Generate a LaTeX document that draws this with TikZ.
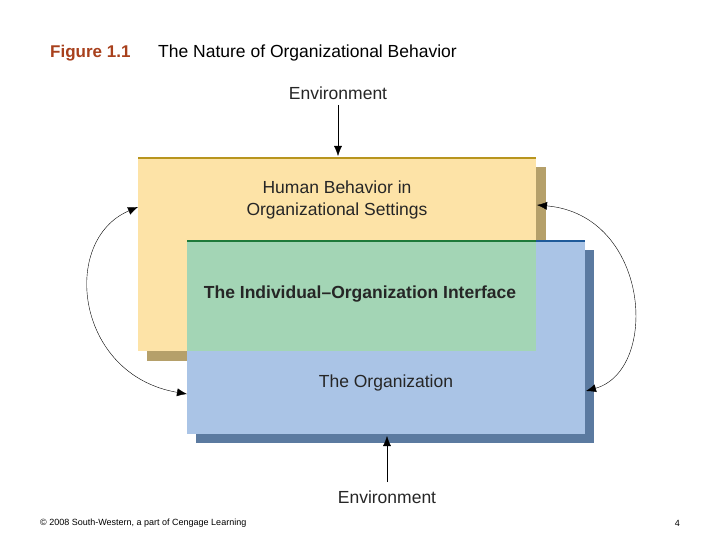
\documentclass[tikz,border=0pt]{standalone}
\usepackage{fontspec}
\setmainfont{Liberation Sans}
\usetikzlibrary{arrows.meta}
\definecolor{yel}{HTML}{FDE3A7}
\definecolor{yelsh}{HTML}{B5A06A}
\definecolor{gold}{HTML}{B8951E}
\definecolor{blu}{HTML}{AAC4E6}
\definecolor{blush}{HTML}{5B7AA0}
\definecolor{bluline}{HTML}{1F5A9A}
\definecolor{grn}{HTML}{A3D5B5}
\definecolor{grnline}{HTML}{1E7A3A}
\definecolor{figred}{HTML}{A8401C}
\begin{document}
\begin{tikzpicture}[x=1pt,y=-1pt,
  lbl/.style={font=\fontsize{17.5}{22}\selectfont, text=black!85, align=center},
  arr/.style={-{Latex[length=10pt,width=8pt]}, thin}]
\useasboundingbox (0,0) rectangle (720,540);
\fill[white] (0,0) rectangle (720,540);
\node[anchor=west, font=\bfseries\fontsize{17}{20}\selectfont, text=figred, inner sep=0pt] (fig) at (50,53) {Figure 1.1};
\node[anchor=west, font=\fontsize{17.5}{20}\selectfont, inner sep=0pt] (tit) at (158,53) {The Nature of Organizational Behavior};
% boxes
\fill[yelsh] (147,167) rectangle (546,361);
\fill[yel] (138,157) rectangle (536,351);
\draw[gold, line width=2.5pt] (138,158) -- (536,158);
\fill[blush] (196,250) rectangle (594,443);
\fill[blu] (187,240) rectangle (585,434);
\draw[bluline, line width=2.5pt] (187,241) -- (585,241);
\fill[grn] (187,240) rectangle (536,351);
\draw[grnline, line width=2.5pt] (187,241) -- (536,241);
\coordinate (yl) at (138,207);
\coordinate (yr) at (537,205);
\coordinate (bl) at (187,394);
\coordinate (br) at (586,391);
\coordinate (ytop) at (338,156);
\coordinate (bbot) at (387,436);
\node[lbl] (hb) at (337,200) {Human Behavior in\\Organizational Settings};
\node[lbl, font=\bfseries\fontsize{17.5}{22}\selectfont] (io) at (360,294) {The Individual–Organization Interface};
\node[lbl] (org) at (386,383) {The Organization};
\node[lbl, inner sep=1pt] (e1) at (338,93) {Environment};
\node[lbl, inner sep=1pt] (e2) at (387,497) {Environment};
\draw[arr] (338,105) -- (ytop);
\draw[arr] (387,482) -- (bbot);
\draw[arr, {Latex[length=10pt,width=8pt]}-{Latex[length=10pt,width=8pt]}] (yl) .. controls (60,240) and (75,375) .. (bl);
\draw[arr, {Latex[length=10pt,width=8pt]}-{Latex[length=10pt,width=8pt]}] (yr) .. controls (650,215) and (660,370) .. (br);
\node[anchor=west, font=\fontsize{9}{10}\selectfont, inner sep=0pt] (ft) at (40,523) {© 2008 South-Western, a part of Cengage Learning};
\node[anchor=east, font=\fontsize{9}{10}\selectfont, inner sep=0pt] (pg) at (680,523) {4};
\end{tikzpicture}
\end{document}
